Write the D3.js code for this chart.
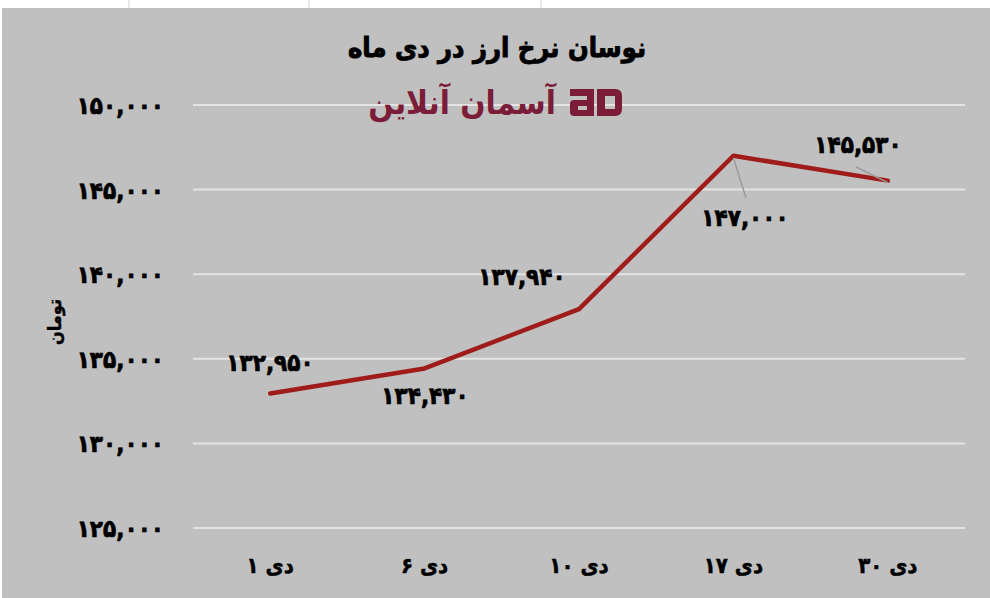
<!DOCTYPE html>
<html><head><meta charset="utf-8">
<script src="https://cdn.jsdelivr.net/npm/d3@7"></script>
<style>html,body{margin:0;padding:0;background:#fff;}svg{display:block;}</style>
</head><body>
<svg id="c" width="990" height="598"></svg>
<script>
const categories = ["۱ دی", "۶ دی", "۱۰ دی", "۱۷ دی", "۳۰ دی"];
const values = [132950, 134430, 137940, 147000, 145530];
const yTicks = [125000, 130000, 135000, 140000, 145000, 150000];
const titleText = "نوسان نرخ ارز در دی ماه";
const yTitle = "تومان";
const logoText = "آسمان آنلاین";

const fa = s => String(s).replace(/[0-9]/g, d => "۰۱۲۳۴۵۶۷۸۹"[+d]);
const fmt = v => fa(d3.format(",")(v));
const FONT = "'DejaVu Sans Condensed', 'DejaVu Sans', sans-serif";

const svg = d3.select("#c");
svg.append("rect").attr("x",0).attr("y",0).attr("width",990).attr("height",598).attr("fill","#ffffff");
[129,309,541].forEach(x=>svg.append("line").attr("x1",x).attr("x2",x).attr("y1",0).attr("y2",8).attr("stroke","#d0d0d0"));
svg.append("rect").attr("x",2).attr("y",8).attr("width",988).attr("height",590).attr("fill","#c0c0c0");

const x = d3.scaleBand().domain(categories).range([193, 965]);
const y = d3.scaleLinear().domain([125000, 150000]).range([528, 105]);

svg.append("g").selectAll("line").data(yTicks).join("line")
  .attr("x1",193).attr("x2",965)
  .attr("y1",d=>y(d)).attr("y2",d=>y(d))
  .attr("stroke","#e4e4e4").attr("stroke-width",2);

const numStyle = sel => sel.attr("font-family",FONT).attr("font-weight","bold").attr("font-size",24)
  .attr("letter-spacing",-0.8).attr("fill","#000").attr("stroke","#000").attr("stroke-width",0.7);

const yAxis = d3.axisLeft(y).tickValues(yTicks).tickSize(0).tickPadding(0).tickFormat(fmt);
const gy = svg.append("g").attr("transform","translate(164,0)").call(yAxis);
gy.select(".domain").remove();
gy.selectAll("text").call(numStyle).attr("dy","0.35em");

const xAxis = d3.axisBottom(x).tickSize(0).tickPadding(0);
const gx = svg.append("g").attr("transform","translate(0,565)").call(xAxis);
gx.select(".domain").remove();
gx.selectAll("text").attr("font-family",FONT).attr("font-weight","bold").attr("font-size",22)
  .attr("fill","#000").attr("stroke","#000").attr("stroke-width",0.5).attr("dy","0.35em");

svg.append("text").attr("transform","translate(55,322) rotate(-90)").attr("text-anchor","middle").attr("dy","0.35em")
  .attr("font-family",FONT).attr("font-weight","bold").attr("font-size",18).attr("stroke","#000").attr("stroke-width",0.4).text(yTitle);

svg.append("text").attr("x",497).attr("y",48).attr("text-anchor","middle").attr("dy","0.35em")
  .attr("font-family",FONT).attr("font-weight","bold").attr("font-size",27).attr("stroke","#000").attr("stroke-width",0.9).text(titleText);

// logo
const logo = svg.append("g").attr("fill","#7b1c38");
logo.append("text").attr("x",556).attr("y",102).attr("text-anchor","end").attr("dy","0.35em")
  .attr("font-family",FONT).attr("font-weight","bold").attr("font-size",33).text(logoText);
logo.append("path").attr("fill-rule","evenodd")
  .attr("d","M570,89 h24 v27 h-20 q-4,0 -4,-4 v-8 q0,-4 4,-4 h13 v-4 h-17 z M578,106 v4 h9 v-4 z");
logo.append("path").attr("fill-rule","evenodd")
  .attr("d","M597,89 h18 q7,0 7,7 v13 q0,7 -7,7 h-18 z M605,96 v13 h10 v-13 z");

const pts = categories.map((c,i)=>[x(c)+x.bandwidth()/2, y(values[i])]);
svg.append("path").datum(pts).attr("d",d3.line()).attr("fill","none").attr("stroke","#a01c1a").attr("stroke-width",4.5).attr("stroke-linejoin","round").attr("stroke-linecap","round");

const leaders = [[3,[746,198]],[4,[856,167]]];
leaders.forEach(([i,end])=>svg.append("line").attr("x1",pts[i][0]).attr("y1",pts[i][1]+2).attr("x2",end[0]).attr("y2",end[1]).attr("stroke","#9a9a9a").attr("stroke-width",1.5));

const labelPos = [[270,363],[425,396],[522,277],[745,218],[858,145]];
svg.append("g").selectAll("text").data(values).join("text")
  .attr("x",(d,i)=>labelPos[i][0]).attr("y",(d,i)=>labelPos[i][1])
  .attr("text-anchor","middle").attr("dy","0.35em")
  .call(numStyle).text(fmt);
</script>
</body></html>
